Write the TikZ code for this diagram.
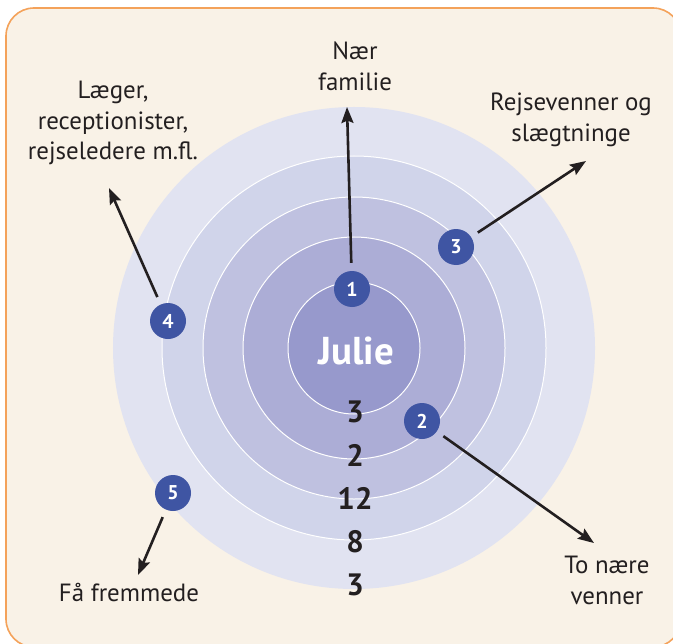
\documentclass[tikz,border=0pt]{standalone}
\usepackage{fontspec}
\setmainfont{PT Sans}
\usetikzlibrary{arrows.meta}
\definecolor{bg}{HTML}{F9F2E7}
\definecolor{framec}{HTML}{F4A25A}
\definecolor{ringA}{HTML}{E1E3F1}
\definecolor{ringB}{HTML}{D0D4EA}
\definecolor{ringC}{HTML}{BFC1E0}
\definecolor{ringD}{HTML}{ACADD6}
\definecolor{ringE}{HTML}{9799CC}
\definecolor{badgec}{HTML}{3F55A3}
\definecolor{txt}{HTML}{231F20}
\begin{document}
\begin{tikzpicture}[x=1bp,y=-1bp,
  ring/.style={circle, inner sep=0pt, draw=white, line width=1bp},
  badge/.style={circle, fill=badgec, minimum size=36bp, inner sep=0pt, text=white,
    font=\fontsize{20}{20}\selectfont\bfseries},
  count/.style={text=txt, inner sep=0pt, font=\fontsize{31}{31}\selectfont\bfseries},
  lbl/.style={text=txt, align=center, inner sep=0pt, font=\fontsize{25}{31}\selectfont},
  arr/.style={-{Stealth[length=16bp,width=12bp,inset=2.5bp]}, line width=2.6bp, txt, shorten <=8bp}
]
\useasboundingbox (0,0) rectangle (673,644);
\begin{scope}
\clip (0,0) rectangle (673,644);
\draw[framec, fill=bg, line width=1.6bp, rounded corners=28bp] (6,8) rectangle (681,647);
\end{scope}
% rings
\node[ring, draw=none, fill=ringA, minimum size=482bp] (r5) at (354,348) {};
\node[ring, fill=ringB, minimum size=384bp] (r4) at (354,348) {};
\node[ring, fill=ringC, minimum size=302bp] (r3) at (354,348) {};
\node[ring, fill=ringD, minimum size=222bp] (r2) at (354,348) {};
\node[ring, fill=ringE, minimum size=132bp] (r1) at (354,348) {};
\node[text=white, inner sep=0pt, font=\fontsize{39}{39}\selectfont\bfseries] (julie) at (356,351) {Julie};
% counts
\node[count] (c1) at (355,412) {3};
\node[count] (c2) at (355,455) {2};
\node[count] (c3) at (355,498) {12};
\node[count] (c4) at (355,542) {8};
\node[count] (c5) at (355,585) {3};
% badges
\node[badge] (b1) at (352,289) {1};
\node[badge] (b2) at (422,421) {2};
\node[badge] (b3) at (456,247) {3};
\node[badge] (b4) at (168,321) {4};
\node[badge] (b5) at (173,493) {5};
% arrow tips
\coordinate (t1) at (347,107);
\coordinate (t2) at (594,543);
\coordinate (t3) at (586,161);
\coordinate (t4) at (109,188);
\coordinate (t5) at (138,575);
\draw[arr] (b1) -- (t1);
\draw[arr] (b2) -- (t2);
\draw[arr] (b3) -- (t3);
\draw[arr] (b4) -- (t4);
\draw[arr] (b5) -- (t5);
% labels
\node[lbl] (l1) at (355,66) {Nær\\familie};
\node[lbl] (l3) at (571,120) {Rejsevenner og\\slægtninge};
\node[lbl] (l4) at (113,123) {Læger,\\receptionister,\\rejseledere m.fl.};
\node[lbl] (l2) at (607,580) {To nære\\venner};
\node[lbl] (l5) at (129,593) {Få fremmede};
\end{tikzpicture}
\end{document}
